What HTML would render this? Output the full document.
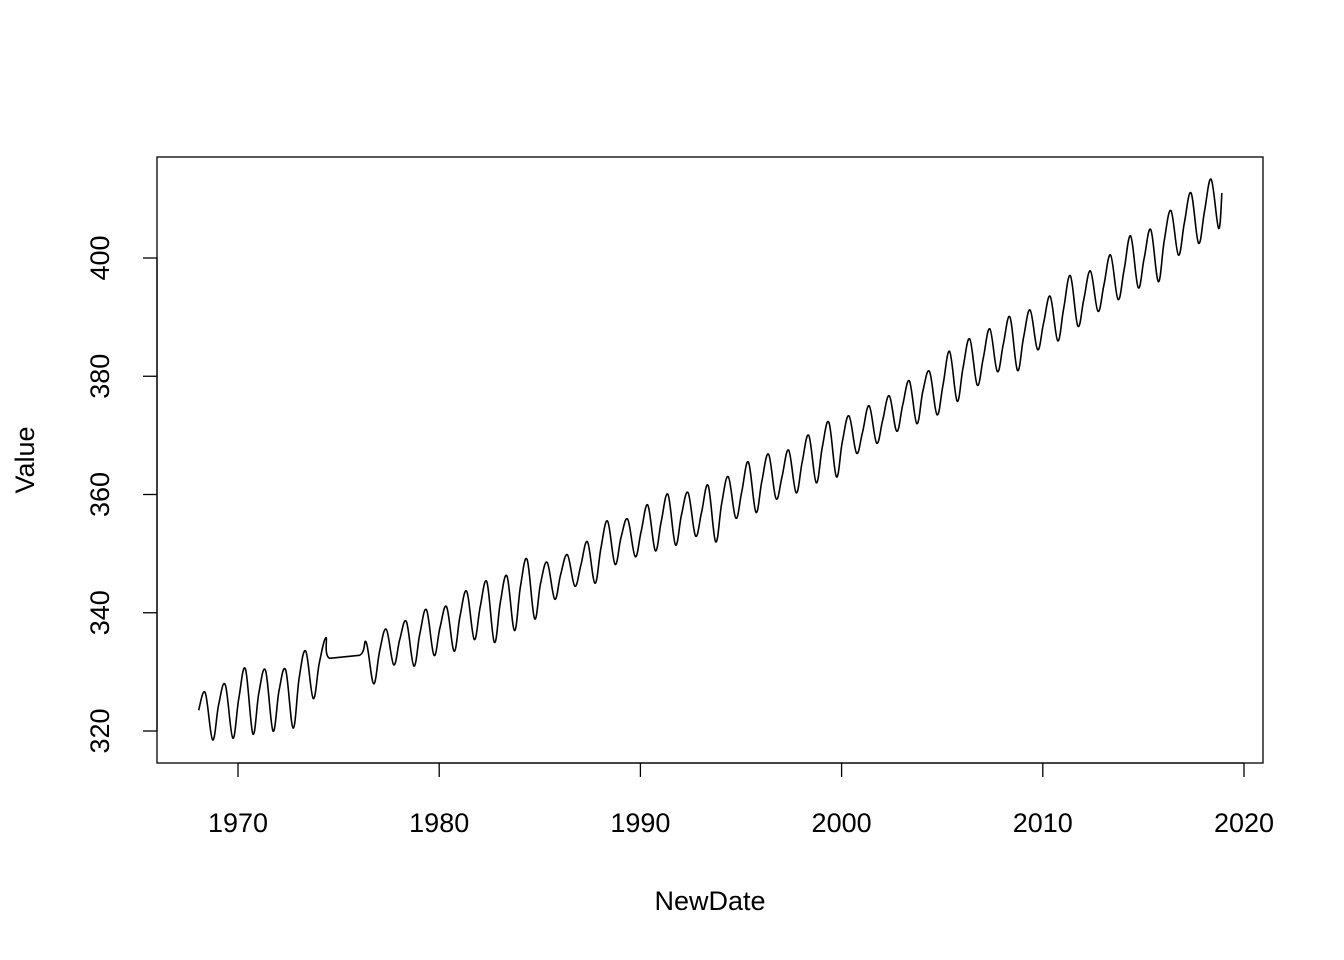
<!DOCTYPE html>
<html><head><meta charset="utf-8"><style>
body{margin:0;background:#fff;}
svg{display:block;font-family:"Liberation Sans",sans-serif;}
</style></head><body>
<svg id="chart" width="1344" height="960">
<rect x="157" y="157" width="1106" height="606" fill="none" stroke="#000" stroke-width="1.3"/>
<g id="xaxis"></g>
<g id="yaxis"></g>
<g id="series"></g>
<text x="710" y="910" font-size="27" text-anchor="middle">NewDate</text>
<text transform="translate(34,460) rotate(-90)" font-size="27" text-anchor="middle">Value</text>
</svg>
<script>
const years=[1968,1969,1970,1971,1972,1973,1974,1976,1977,1978,1979,1980,1981,1982,1983,1984,1985,1986,1987,1988,1989,1990,1991,1992,1993,1994,1995,1996,1997,1998,1999,2000,2001,2002,2003,2004,2005,2006,2007,2008,2009,2010,2011,2012,2013,2014,2015,2016,2017,2018];
const janVals=[323.5,324.5,325.5,326.5,326.8,329,331.5,332.8,333.5,335.5,336.5,337.5,339.5,341,341.8,344.5,345,346.5,348,351,352.8,353.8,355.5,356.5,357,358.5,360.5,362.3,363,365.5,368,369,370.5,372.5,375.2,377.5,378.5,381.5,383,385.5,386.5,389,391.5,393,395.5,398,400,403,406,408];
const peakVals=[326.5,327.8,330.5,330.2,330.3,333.5,335.8,335,337.2,338.5,340.5,341,343.6,345.2,346.2,349,348.5,349.8,352,355.5,355.8,358.2,360,360.3,361.5,363,365.5,366.8,367.5,370,372.2,373.3,375,376.7,379.2,380.8,384.2,386.3,388,390,391.2,393.5,397,397.8,400.5,403.7,404.8,408,411,413.3];
const troughVals=[318.5,318.8,319.5,320,320.5,325.5,332.3,328,331.2,331,332.8,333.5,335.5,335,337,339,342.3,344.5,345,348.2,349.5,350.5,351.5,353,352,356,357,359.3,360.3,362,363,367,368.7,370.7,372,373.5,375.8,378.5,380.8,381,384.5,386,388.5,391,393,395,396,400.5,402.5,405];
const endDate=2018.9, endVal=411;
const xTicks=[1970,1980,1990,2000,2010,2020];
const yTicks=[320,340,360,380,400];
const NS="http://www.w3.org/2000/svg";
const X=d=>238+(d-1970)*(1244-238)/50;
const Y=v=>731-(v-320)*(731-258)/80;
function mk(t,a,p){const e=document.createElementNS(NS,t);for(const k in a)e.setAttribute(k,a[k]);p.appendChild(e);return e;}
const xa=document.getElementById('xaxis'),ya=document.getElementById('yaxis'),sg=document.getElementById('series');
mk('line',{x1:X(xTicks[0]),x2:X(xTicks[xTicks.length-1]),y1:763,y2:763,stroke:'#000','stroke-width':1.3},xa);
xTicks.forEach(t=>{
 const l=mk('line',{x1:X(t),x2:X(t),y1:763,y2:777,stroke:'#000','stroke-width':1.3},xa);
 
 
 const tx=mk('text',{x:X(t),y:832,'font-size':27,'text-anchor':'middle'},xa);tx.textContent=t;
 
 
});
mk('line',{x1:157,x2:157,y1:Y(yTicks[0]),y2:Y(yTicks[yTicks.length-1]),stroke:'#000','stroke-width':1.3},ya);
yTicks.forEach(t=>{
 const l=mk('line',{x1:143,x2:157,y1:Y(t),y2:Y(t),stroke:'#000','stroke-width':1.3},ya);
 
 
 const tx=mk('text',{transform:`translate(109,${Y(t)}) rotate(-90)`,'font-size':27,'text-anchor':'middle'},ya);tx.textContent=t;
 
 
});
const pts=[];
years.forEach((yr,i)=>{
 pts.push([yr+0.04,janVals[i]]);
 pts.push([yr+0.37,peakVals[i]]);
 if(yr===1974) pts.push([yr+0.55,troughVals[i]]);
 else pts.push([yr+0.74,troughVals[i]]);
});
pts.push([endDate,endVal]);
const P=pts.map(p=>[X(p[0]),Y(p[1])]);
let d='M'+P[0][0].toFixed(1)+','+P[0][1].toFixed(1);
for(let i=0;i<P.length-1;i++){
 const p0=P[i-1]||P[i],p1=P[i],p2=P[i+1],p3=P[i+2]||p2;
 const straight=(pts[i][0]>1974.5&&pts[i+1][0]<1976.1);
 if(straight){d+=' L'+p2[0].toFixed(1)+','+p2[1].toFixed(1);continue;}
 const t=0.18;
 const c1=[p1[0]+(p2[0]-p0[0])*t,p1[1]+(p2[1]-p0[1])*t];
 const c2=[p2[0]-(p3[0]-p1[0])*t,p2[1]-(p3[1]-p1[1])*t];
 d+=' C'+c1.map(v=>v.toFixed(1)).join(',')+' '+c2.map(v=>v.toFixed(1)).join(',')+' '+p2[0].toFixed(1)+','+p2[1].toFixed(1);
}
const pl=mk('path',{d:d,fill:'none',stroke:'#000','stroke-width':1.6,'stroke-linejoin':'round'},sg);


</script>
</body></html>
